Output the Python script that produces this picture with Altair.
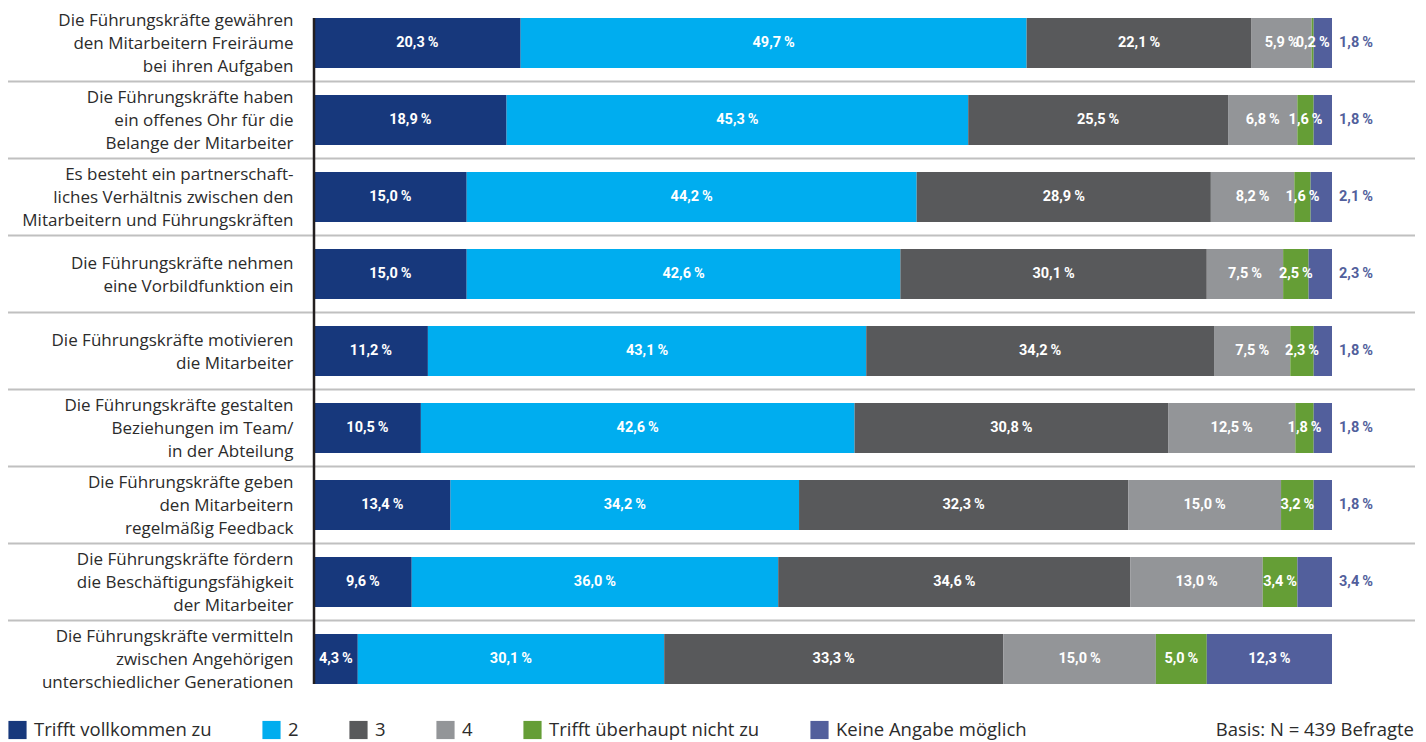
import altair as alt
import pandas as pd

categories = [
    "Die Führungskräfte gewähren|den Mitarbeitern Freiräume|bei ihren Aufgaben",
    "Die Führungskräfte haben|ein offenes Ohr für die|Belange der Mitarbeiter",
    "Es besteht ein partnerschaft-|liches Verhältnis zwischen den|Mitarbeitern und Führungskräften",
    "Die Führungskräfte nehmen|eine Vorbildfunktion ein",
    "Die Führungskräfte motivieren|die Mitarbeiter",
    "Die Führungskräfte gestalten|Beziehungen im Team/|in der Abteilung",
    "Die Führungskräfte geben|den Mitarbeitern|regelmäßig Feedback",
    "Die Führungskräfte fördern|die Beschäftigungsfähigkeit|der Mitarbeiter",
    "Die Führungskräfte vermitteln|zwischen Angehörigen|unterschiedlicher Generationen",
]

series = ["Trifft vollkommen zu", "2", "3", "4", "Trifft überhaupt nicht zu", "Keine Angabe möglich"]
colors = ["#17387c", "#00adef", "#58595b", "#939598", "#659e36", "#525f9c"]

s1 = [20.3, 18.9, 15.0, 15.0, 11.2, 10.5, 13.4, 9.6, 4.3]
s2 = [49.7, 45.3, 44.2, 42.6, 43.1, 42.6, 34.2, 36.0, 30.1]
s3 = [22.1, 25.5, 28.9, 30.1, 34.2, 30.8, 32.3, 34.6, 33.3]
s4 = [5.9, 6.8, 8.2, 7.5, 7.5, 12.5, 15.0, 13.0, 15.0]
s5 = [0.2, 1.6, 1.6, 2.5, 2.3, 1.8, 3.2, 3.4, 5.0]
s6 = [1.8, 1.8, 2.1, 2.3, 1.8, 1.8, 1.8, 3.4, 12.3]

basis_text = "Basis: N = 439 Befragte"

rows = []
for k, vals in enumerate([s1, s2, s3, s4, s5, s6]):
    for cat, v in zip(categories, vals):
        rows.append({
            "cat": cat,
            "series": series[k],
            "order": k,
            "value": v,
            "label": f"{v:.1f}".replace(".", ",") + "\u2009%",
        })
df = pd.DataFrame(rows)

FONT = "Open Sans"
LABEL_FONT = "Roboto"
TEXT_COLOR = "#2b2b2b"
PURPLE = "#525f9c"

yscale = alt.Scale(domain=categories, paddingInner=0.35, paddingOuter=0.175)
xscale = alt.Scale(domain=[0, 1], nice=False, zero=False)

y_enc = alt.Y(
    "cat:N",
    scale=yscale,
    axis=alt.Axis(
        title=None, domain=False, ticks=False,
        labelExpr="split(datum.label, '|')",
        labelFont=FONT, labelFontSize=17, labelColor=TEXT_COLOR,
        labelPadding=21, labelLineHeight=23, labelAlign="right",
        labelBaseline="middle", labelLimit=400,
        labelOffset={
            "condition": {"test": "length(split(datum.label, '|')) == 3", "value": -22},
            "value": -10.5,
        },
    ),
)

base = alt.Chart(df).transform_stack(
    stack="value",
    groupby=["cat"],
    sort=[alt.SortField("order", order="ascending")],
    as_=["x0", "x1"],
    offset="normalize",
).transform_calculate(mid="(datum.x0 + datum.x1) / 2")

bars = base.mark_bar().encode(
    x=alt.X("x0:Q", scale=xscale, axis=None),
    x2="x1:Q",
    y=y_enc,
    color=alt.Color(
        "series:N",
        scale=alt.Scale(domain=series, range=colors),
        legend=alt.Legend(
            title=None, orient="none", legendX=-306, legendY=716,
            direction="horizontal", symbolType="square", symbolSize=330,
            symbolStrokeWidth=0, symbolOpacity=1,
            labelFont=FONT, labelFontSize=18.5, labelColor=TEXT_COLOR,
            labelOffset=7, columnPadding=50, labelLimit=400,
        ),
    ),
)

inner = base.transform_filter("datum.order < 5 || datum.value >= 5").mark_text(
    color="white", fontWeight="bold", fontSize=14.5, font=LABEL_FONT
).encode(x=alt.X("mid:Q", scale=xscale, axis=None), y=y_enc, text="label:N")

outer = base.transform_filter("datum.order == 5 && datum.value < 5").mark_text(
    color=PURPLE, fontWeight="bold", fontSize=14.5, font=LABEL_FONT, align="left", dx=7
).encode(x=alt.X("x1:Q", scale=xscale, axis=None), y=y_enc, text="label:N")

sep_df = pd.DataFrame({"cat": categories[:-1]})
separators = alt.Chart(sep_df).mark_rule(
    color="#c0c0c0", strokeWidth=2, yOffset=38.5
).encode(y=y_enc, x=alt.value(-306), x2=alt.value(1101))

axis_line = alt.Chart(pd.DataFrame({"a": [0]})).mark_rule(
    color="#231f20", strokeWidth=2.5
).encode(x=alt.value(0), y=alt.value(13.5), y2=alt.value(679.5))

basis = alt.Chart(pd.DataFrame({"t": [basis_text]})).mark_text(
    align="right", baseline="middle", font=FONT, fontSize=18.5, color=TEXT_COLOR
).encode(x=alt.value(1100), y=alt.value(725), text="t:N")

chart = alt.layer(separators, bars, axis_line, inner, outer, basis).properties(
    width=1018,
    height=693,
    autosize=alt.AutoSizeParams(type="none"),
    padding={"left": 314, "top": 4.5, "right": 94, "bottom": 44.5},
).configure_view(stroke=None)

chart.save("out.html", embed_options={"renderer": "svg", "actions": False})
